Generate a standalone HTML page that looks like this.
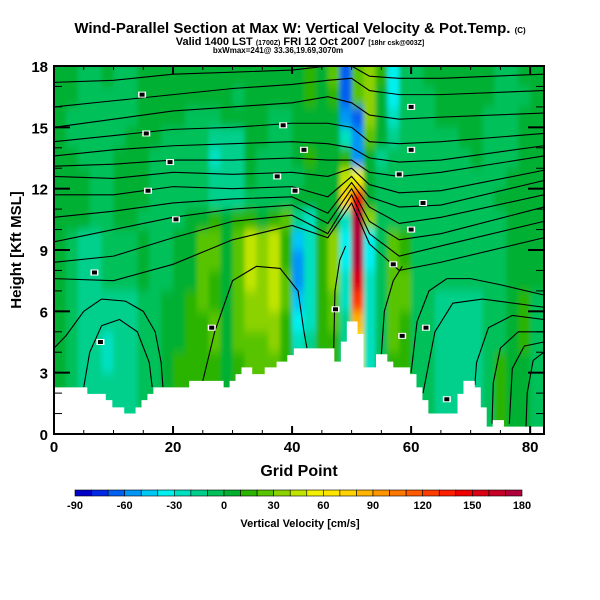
<!DOCTYPE html>
<html><head><meta charset="utf-8"><style>
body{margin:0;background:#fff;width:600px;height:600px;overflow:hidden}
svg{display:block}
text{font-family:"Liberation Sans",sans-serif;fill:#000}
</style></head><body>
<svg id="chart" width="600" height="600" viewBox="0 0 600 600">
<defs>
<clipPath id="plotClip"><rect x="54" y="66" width="490" height="368"/></clipPath>
<filter id="blur" x="-5%" y="-5%" width="110%" height="110%"><feGaussianBlur stdDeviation="2 5"/></filter>
</defs>
<text x="300" y="33" text-anchor="middle" font-size="15" font-weight="bold">Wind-Parallel Section at Max W: Vertical Velocity &amp; Pot.Temp. <tspan font-size="8">(C)</tspan></text>
<text x="300" y="45" text-anchor="middle" font-size="11" font-weight="bold">Valid 1400 LST <tspan font-size="7">(1700Z)</tspan> FRI 12 Oct 2007 <tspan font-size="7">[18hr csk@003Z]</tspan></text>
<text x="278" y="53" text-anchor="middle" font-size="8" font-weight="bold">bxWmax=241@ 33.36,19.69,3070m</text>
<g id="field" clip-path="url(#plotClip)"><g id="cells" filter="url(#blur)"></g></g>
<g id="contours" clip-path="url(#plotClip)" fill="none" stroke="#000" stroke-width="1.1"></g>
<g id="terrain" clip-path="url(#plotClip)"></g>
<g id="labels" clip-path="url(#plotClip)"></g>
<rect x="54" y="66" width="490" height="368" fill="none" stroke="#000" stroke-width="2"/>
<g id="axes"></g>
<text x="299" y="476" text-anchor="middle" font-size="16" font-weight="bold">Grid Point</text>
<text transform="translate(21,250) rotate(-90)" text-anchor="middle" font-size="15" font-weight="bold">Height [Kft MSL]</text>
<g id="colorbar"></g>
<text x="300" y="527" text-anchor="middle" font-size="11" font-weight="bold">Vertical Velocity [cm/s]</text>
</svg>
<script>
const levelColors=["#0000c8","#0028e6","#0060f0","#0096f5","#00c8f5","#00f0f0","#00e0c0","#00d08c","#00c05a","#00b030","#2cb400","#58c400","#8cd200","#c0e400","#f0f000","#ffe600","#ffd200","#ffb400","#ff9600","#ff7800","#ff5a00","#ff3c00","#ff1e00","#f00000","#dc0014","#c80028","#b0003c"];
const cbLabels=["-90","-60","-30","0","30","60","90","120","150","180"];
const wRows=[
"998898899999"+"999999999a9b"+"2bca58"+"899999988999",
"998888899999"+"999899999a9a"+"2bc958"+"889999988899",
"988888899998"+"889999889999"+"32c968"+"889999888999",
"988888999888"+"877799889999"+"63b978"+"888899888999",
"998889998888"+"867798889a99"+"a39788"+"888889888999",
"999889998888"+"877798888999"+"de9888"+"888888889999",
"999889998888"+"877788889999"+"gn9888"+"888888899999",
"999889988889"+"9a9aa9ab7699"+"6qc888"+"888888889999",
"987788898899"+"bb9bdcda46ac"+"5q58ba"+"888888889999",
"987788898899"+"bb9bdcda36ac"+"5q58ba"+"888888889999",
"987788898899"+"ba9bdcdb36ac"+"6o68bb"+"888888889999",
"98777778899a"+"ba9bccdb46ab"+"6l68bb"+"887777889a88",
"98777778899a"+"ab9bccca56ab"+"7h68ba"+"887777889a88",
"98776778899a"+"ab9bbbca67aa"+"7f68ba"+"887777889a88",
"9877677889aa"+"aa9abbba779a"+"7e68aa"+"8877778a9988",
"9877777889aa"+"aa9abbba779a"+"7c68aa"+"8877778a9988",
"988777789999"+"a99aaaa9889a"+"8b889a"+"8877778a9988",
"988777789999"+"a99aaaa9889a"+"8b889a"+"8877778a9988"];
const terrainBreaks=[0,5.6,8.7,9.8,11.8,13.7,14.7,15.7,16.7,22.7,28.5,29.5,30.5,31.5,33.3,35.4,37.4,39.2,40.3,47.1,48.2,49.2,51,52,54.1,56,57,59.8,60.9,61.9,62.9,67.8,68.8,70.7,71.7,72.7,73.7,75.6,82.5];
const terrainHeights=[2.28,1.96,1.66,1.3,1.0,1.3,1.66,1.96,2.28,2.6,2.28,2.6,2.93,3.26,2.93,3.26,3.54,3.86,4.19,3.54,4.52,5.5,4.89,3.26,3.9,3.54,3.26,2.93,2.28,1.66,1.0,1.96,2.6,2.28,1.3,0.36,0.68,0.36];
const isoX=[0,10,20,30,40,46,50,53,58,65,82.3];
const isoLines=[
[17.2,17.3,17.6,17.7,17.8,18,18,17.5,17.4,17.4,17.6],
[16.0,16.3,16.6,16.9,17.1,17.3,17.4,16.8,16.6,16.6,16.8],
[15.0,15.4,15.8,16.0,16.2,16.5,16.2,15.6,15.4,15.5,15.7],
[14.3,14.6,14.9,15.0,15.2,15.2,15.0,14.3,14.2,14.3,14.7],
[13.6,13.9,14.1,14.2,14.3,14.2,14.0,13.5,13.3,13.4,14.1],
[13.1,13.2,13.4,13.4,13.5,13.4,13.4,12.8,12.6,12.8,13.6],
[12.6,12.5,12.8,12.7,12.8,12.6,13.0,12.2,11.8,11.9,12.9],
[11.7,11.7,12.1,12.0,12.1,11.6,12.6,11.6,11.1,11.2,12.4],
[10.6,10.9,11.3,11.5,11.6,10.8,12.3,11.1,10.3,10.6,11.7],
[9.4,10.0,10.6,11.0,11.2,10.3,12.0,10.4,9.5,9.8,11.1],
[8.4,8.7,9.6,10.4,10.7,9.8,11.7,9.8,8.7,9.2,10.4],
[7.6,7.5,8.3,9.5,10.2,9.6,11.3,9.3,8.0,8.4,9.6]];
const lowContours=[
[[0,4.2],[2,4.8],[5,6],[8,6.6],[12,6.5],[15,6],[17,5],[18,3.5],[18.3,2.3]],
[[5,2.3],[6,4],[8,5.3],[11,5.6],[14,5],[16,3.5],[16.5,2.3]],
[[25,2.6],[27,5],[30,7.5],[34,8.2],[38,8.1],[41,7],[42,5],[42.5,4.2]],
[[47,4.2],[47.2,7],[48,8.5],[49,9.2]],
[[55,3.9],[55.5,6],[57,7.5],[58.5,8.2]],
[[60,3],[61,5.5],[63,7],[66,7.6],[70,7.6],[75,7.3],[82.3,6.8]],
[[62,2],[64,5],[67,6.4],[72,6.6],[82.3,6.2]],
[[82.3,5.6],[77,5.8],[73,5.2],[71,3.5],[70.7,2.4]],
[[82.3,5.0],[78,5.0],[75,4.2],[73.8,2.5],[73.6,0.5]],
[[82.3,4.5],[79,4.3],[77,3.2],[76.5,0.5]],
[[82.3,4.0],[80.5,3.6],[79.5,2],[79.3,0.3]]];
const labelPts=[[14.8,16.6],[15.5,14.7],[19.5,13.3],[15.8,11.9],[20.5,10.5],[6.8,7.9],[7.8,4.5],[26.5,5.2],[38.5,15.1],[42,13.9],[37.5,12.6],[40.5,11.9],[47.3,6.1],[60,16],[60,13.9],[58,12.7],[62,11.3],[60,10],[57,8.3],[58.5,4.8],[62.5,5.2],[66,1.7]];

const svgNS="http://www.w3.org/2000/svg";
const X=g=>54+g*5.952, Y=h=>434-h*20.444;
function mk(tag,attrs,parent){const e=document.createElementNS(svgNS,tag);for(const k in attrs)e.setAttribute(k,attrs[k]);parent.appendChild(e);return e;}
const cells=document.getElementById('cells');
wRows.forEach((row,r)=>{
  for(let c=0;c<row.length;c++){
    const lev=parseInt(row[c],36);
    let y0=Y(18-r), y1=Y(17-r), x0=X(2*c), x1=X(2*c+2);
    if(r===0)y0-=20; if(r===wRows.length-1)y1+=20; if(c===0)x0-=20; if(c===row.length-1)x1+=20;
    const el=mk('rect',{x:x0,y:y0,width:x1-x0+0.5,height:y1-y0+0.5,fill:levelColors[lev]},cells);
    
    
  }
});
const cont=document.getElementById('contours');
isoLines.forEach(l=>{
  const el=mk('polyline',{points:l.map((h,i)=>X(isoX[i])+','+Y(h)).join(' ')},cont);
  
  
});
lowContours.forEach(l=>{
  const el=mk('polyline',{points:l.map(p=>X(p[0])+','+Y(p[1])).join(' ')},cont);
  
  
});
let tp=[];
terrainHeights.forEach((h,i)=>{tp.push(X(terrainBreaks[i])+','+Y(h));tp.push(X(terrainBreaks[i+1])+','+Y(h));});
tp.push(X(terrainBreaks[terrainBreaks.length-1])+','+440);tp.push(X(0)+','+440);
const terr=mk('polygon',{points:tp.join(' '),fill:'#fff',stroke:'none'},document.getElementById('terrain'));


const lab=document.getElementById('labels');
labelPts.forEach(p=>{
  const el=mk('rect',{x:X(p[0])-4,y:Y(p[1])-3,width:8,height:6,fill:'#fff'},lab);
  
  
  mk('rect',{x:X(p[0])-2.5,y:Y(p[1])-2,width:5,height:4,fill:'#000'},lab);
});
const ax=document.getElementById('axes');
for(let g=0;g<=80;g+=5){const L=g%20===0?8:4;
  mk('line',{x1:X(g),x2:X(g),y1:434,y2:434-L,stroke:'#000','stroke-width':g%20===0?2:1},ax);
  mk('line',{x1:X(g),x2:X(g),y1:66,y2:66+L,stroke:'#000','stroke-width':g%20===0?2:1},ax);
  if(g%20===0){const t=mk('text',{x:X(g),y:452,'text-anchor':'middle','font-size':'15','font-weight':'bold'},ax);t.textContent=g;
    
    }
}
for(let h=0;h<=18;h++){const M=h%3===0;const L=M?16:8;
  mk('line',{x1:54,x2:54+L,y1:Y(h),y2:Y(h),stroke:'#000','stroke-width':M?2:1},ax);
  mk('line',{x1:544,x2:544-L,y1:Y(h),y2:Y(h),stroke:'#000','stroke-width':M?2:1},ax);
  if(M){const t=mk('text',{x:48,y:Y(h)+6,'text-anchor':'end','font-size':'15','font-weight':'bold'},ax);t.textContent=h;
    
    }
}
const cb=document.getElementById('colorbar');
const cbx=75,cbw=447/levelColors.length;
levelColors.forEach((c,i)=>{
  const el=mk('rect',{x:cbx+i*cbw,y:490,width:cbw,height:6,fill:c,stroke:'#000','stroke-width':'0.6'},cb);
  
  
});
cbLabels.forEach((s,i)=>{
  const t=mk('text',{x:cbx+i*3*cbw,y:509,'text-anchor':'middle','font-size':'11','font-weight':'bold'},cb);t.textContent=s;
  
  
});
</script>
</body></html>
